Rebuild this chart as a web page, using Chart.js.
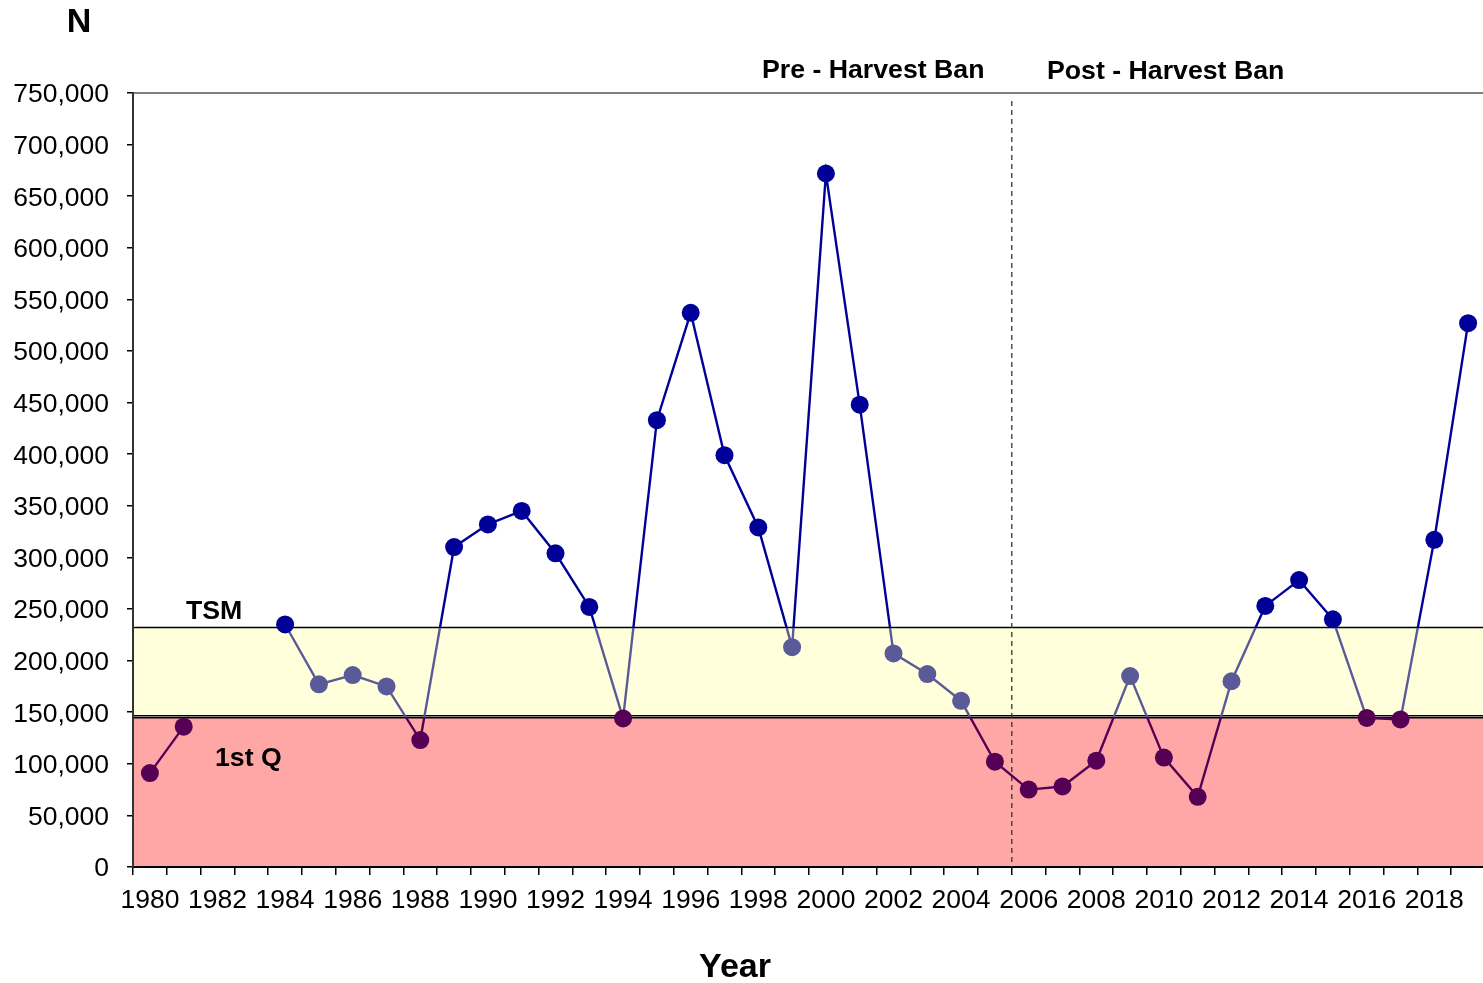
<!DOCTYPE html>
<html><head><meta charset="utf-8">
<script src="https://cdn.jsdelivr.net/npm/chart.js@4/dist/chart.umd.min.js"></script>
<style>html,body{margin:0;padding:0;background:#fff;overflow:hidden}#wrap{position:relative;width:1483px;height:983px;overflow:hidden}</style>
</head><body><div id="wrap"><canvas id="c" width="1494" height="983"></canvas></div>
<script>
const years = ['1980','1981','1982','1983','1984','1985','1986','1987','1988','1989',
               '1990','1991','1992','1993','1994','1995','1996','1997','1998','1999',
               '2000','2001','2002','2003','2004','2005','2006','2007','2008','2009',
               '2010','2011','2012','2013','2014','2015','2016','2017','2018','2019'];
const abundance = [91000,136000,null,null,235000,177000,186000,175000,123000,310000,
                   332000,345000,304000,252000,144000,433000,537000,399000,329000,213000,
                   672000,448000,207000,187000,161000,102000,75000,78000,103000,185000,
                   106000,68000,180000,253000,278000,240000,144500,143000,317000,527000];
const tsmLevel = 232000;
const firstQUpper = 146600;
const firstQLower = 144700;
const colourSplit = 145000;
const banBoundary = ['2005','2006'];
const yMin = 0, yMax = 750000, yStep = 50000;

const FONT = '"Liberation Sans", Arial, sans-serif';
const BLUE = '#000099', SLATE = '#5A5A98', PURPLE = '#550055';

function zoneColour(v){
  if (v == null) return BLUE;
  if (v >= tsmLevel) return BLUE;
  if (v >= colourSplit) return SLATE;
  return PURPLE;
}

const decor = {
  id: 'decor',
  beforeDraw(chart){
    const {ctx, chartArea: a, scales: {x, y}} = chart;
    ctx.save();
    const yt = y.getPixelForValue(tsmLevel), yu = y.getPixelForValue(firstQUpper),
          yl = y.getPixelForValue(firstQLower), y0 = y.getPixelForValue(0);
    ctx.fillStyle = '#FFFFDC';
    ctx.fillRect(a.left, yt, a.right - a.left, yu - yt);
    ctx.fillStyle = '#FFA6A6';
    ctx.fillRect(a.left, yl, a.right - a.left, y0 - yl);
    ctx.strokeStyle = '#000'; ctx.lineWidth = 1.5;
    [yt, yu, yl].forEach(p => { ctx.beginPath(); ctx.moveTo(a.left, p); ctx.lineTo(a.right, p); ctx.stroke(); });
    ctx.strokeStyle = '#808080'; ctx.lineWidth = 2;
    ctx.beginPath(); ctx.moveTo(a.left, a.top); ctx.lineTo(a.right, a.top); ctx.stroke();
    ctx.restore();
  },
  beforeDatasetsDraw(chart){
    const {ctx, chartArea: a, scales: {x}} = chart;
    const xp = (x.getPixelForValue(years.indexOf(banBoundary[0])) + x.getPixelForValue(years.indexOf(banBoundary[1]))) / 2;
    ctx.save();
    ctx.strokeStyle = '#333'; ctx.lineWidth = 1.3; ctx.setLineDash([5,4]);
    ctx.beginPath(); ctx.moveTo(xp, a.top + 8); ctx.lineTo(xp, a.bottom); ctx.stroke();
    ctx.restore();
  },
  afterDraw(chart){
    const {ctx} = chart;
    ctx.save();
    ctx.fillStyle = '#000';
    ctx.textBaseline = 'middle';
    ctx.textAlign = 'center';
    ctx.font = 'bold 34px ' + FONT;
    ctx.fillText('N', 79, 23);
    ctx.fillText('Year', 735, 968);
    ctx.textAlign = 'left';
    ctx.font = 'bold 26.7px ' + FONT;
    ctx.fillText('Pre - Harvest Ban', 762, 71);
    ctx.fillText('Post - Harvest Ban', 1047, 72);
    ctx.fillText('TSM', 186, 612);
    ctx.fillText('1st Q', 215, 759);
    ctx.restore();
  }
};

new Chart(document.getElementById('c'), {
  type: 'line',
  data: {
    labels: years,
    datasets: [{
      data: abundance,
      spanGaps: false,
      borderWidth: 2.4,
      tension: 0,
      pointRadius: 9,
      pointHoverRadius: 9,
      pointBorderWidth: 0,
      pointBackgroundColor: c => zoneColour(c.raw),
      pointBorderColor: c => zoneColour(c.raw),
      borderColor: c => {
        const chart = c.chart; const a = chart.chartArea;
        if (!a) return BLUE;
        const y = chart.scales.y;
        const g = chart.ctx.createLinearGradient(0, a.bottom, 0, a.top);
        const h = a.bottom - a.top;
        const f1 = (a.bottom - y.getPixelForValue(colourSplit)) / h;
        const f2 = (a.bottom - y.getPixelForValue(tsmLevel)) / h;
        g.addColorStop(0, PURPLE); g.addColorStop(f1, PURPLE);
        g.addColorStop(f1, SLATE); g.addColorStop(f2, SLATE);
        g.addColorStop(f2, BLUE); g.addColorStop(1, BLUE);
        return g;
      }
    }]
  },
  options: {
    responsive: false,
    animation: false,
    devicePixelRatio: 1,
    layout: { padding: { top: 93, right: 0, bottom: 0, left: 0 } },
    plugins: { legend: { display: false }, tooltip: { enabled: false } },
    scales: {
      x: {
        type: 'category',
        offset: true,
        grid: { offset: true, drawOnChartArea: false, drawTicks: true, tickLength: 8, color: '#000', lineWidth: 1.5 },
        border: { display: true, color: '#000', width: 2 },
        ticks: {
          autoSkip: false, maxRotation: 0, minRotation: 0, padding: 10,
          color: '#000', font: { family: FONT, size: 26.5 },
          callback: (v, i) => (i % 2 === 0 ? years[i] : '')
        },
        afterFit: s => { s.height = 116; }
      },
      y: {
        min: yMin, max: yMax,
        grid: { drawOnChartArea: false, drawTicks: true, tickLength: 6, color: '#000', lineWidth: 1.5 },
        border: { display: true, color: '#333', width: 2 },
        ticks: {
          stepSize: yStep, padding: 18, labelOffset: 2, color: '#000', font: { family: FONT, size: 26.5 },
          callback: v => v.toLocaleString('en-US')
        },
        afterFit: s => { s.width = 133; }
      }
    }
  },
  plugins: [decor]
});
</script></body></html>
